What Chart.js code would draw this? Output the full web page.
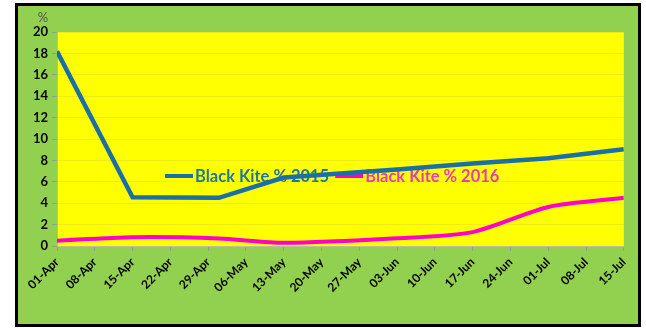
<!DOCTYPE html>
<html>
<head>
<meta charset="utf-8">
<script src="https://cdn.jsdelivr.net/npm/chart.js@4.4.0/dist/chart.umd.min.js"></script>
<style>
  html, body { margin: 0; padding: 0; background: #fff; }
  .frame {
    position: absolute; left: 15px; top: 3px;
    width: 620px; height: 318px;
    border: 3px solid #000; background: #92d050;
  }
  canvas { display: block; }
</style>
</head>
<body>
<div class="frame"><canvas id="chart" width="620" height="318"></canvas></div>
<script>
  // weekly axis labels (one every 7 days from 01-Apr)
  const weekLabels = ['01-Apr', '08-Apr', '15-Apr', '22-Apr', '29-Apr', '06-May', '13-May', '20-May',
    '27-May', '03-Jun', '10-Jun', '17-Jun', '24-Jun', '01-Jul', '08-Jul', '15-Jul'];
  // survey days, counted from 01-Apr
  const surveyDays = [0, 14, 30, 42, 63, 77, 91, 105];
  const kite2015 = [18.2, 4.55, 4.5, 6.4, 7.15, 7.7, 8.2, 9.05];
  const kite2016 = [0.5, 0.82, 0.7, 0.3, 0.72, 1.3, 3.65, 4.5];
  const yTicks = [0, 20, 2];

  const blue = '#1b6fa8';
  const pink = '#ff00cc';
  const font = 'Lato, "Open Sans", sans-serif';

  const points = (vals) => surveyDays.map((d, i) => ({ x: d, y: vals[i] }));

  // legend drawn inside the plot, under the lines
  const innerLegend = {
    id: 'innerLegend',
    beforeDatasetsDraw(chart) {
      const { ctx, chartArea } = chart;
      const textColors = ['#1f7896', '#e63cb4'];
      let x = chartArea.left + 108;
      const y = chartArea.top + 144;
      ctx.save();
      ctx.font = 'bold 16.5px ' + font;
      ctx.textBaseline = 'middle';
      chart.data.datasets.forEach((ds, i) => {
        ctx.strokeStyle = ds.borderColor;
        ctx.lineWidth = 4;
        ctx.beginPath();
        ctx.moveTo(x, y);
        ctx.lineTo(x + 28, y);
        ctx.stroke();
        ctx.fillStyle = textColors[i];
        ctx.fillText(ds.label, x + 30, y + 1);
        x += 30 + ctx.measureText(ds.label).width + 6;
      });
      ctx.restore();
    },
    afterDraw(chart) {
      const { ctx, chartArea } = chart;
      ctx.save();
      ctx.font = '13px ' + font;
      ctx.fillStyle = '#555';
      ctx.textAlign = 'center';
      ctx.textBaseline = 'middle';
      ctx.fillText('%', chartArea.left - 14, chartArea.top - 14);
      ctx.restore();
    },
  };

  const plotBg = {
    id: 'plotBg',
    beforeDraw(chart) {
      const { ctx, chartArea: a } = chart;
      ctx.save();
      ctx.fillStyle = '#ffff00';
      ctx.fillRect(a.left, a.top, a.right - a.left, a.bottom - a.top);
      ctx.restore();
    },
  };

  new Chart(document.getElementById('chart'), {
    type: 'line',
    data: {
      datasets: [
        {
          label: 'Black Kite % 2015',
          data: points(kite2015),
          borderColor: blue,
          borderWidth: 4.5,
          pointRadius: 0,
          tension: 0,
        },
        {
          label: 'Black Kite % 2016',
          data: points(kite2016),
          borderColor: pink,
          borderWidth: 4,
          pointRadius: 0,
          tension: 0.25,
        },
      ],
    },
    options: {
      responsive: false,
      animation: false,
      layout: { padding: { top: 26, right: 14, left: 0, bottom: 0 } },
      plugins: { legend: { display: false }, tooltip: { enabled: false } },
      scales: {
        x: {
          type: 'linear',
          min: 0,
          max: (weekLabels.length - 1) * 7,
          afterFit: (s) => { s.height = 78; },
          afterBuildTicks: (s) => {
            s.ticks = weekLabels.map((_, i) => ({ value: i * 7 }));
          },
          ticks: {
            autoSkip: false,
            minRotation: 45,
            maxRotation: 45,
            color: '#000',
            padding: 4,
            font: { family: font, size: 12, weight: 'bold' },
            callback: (v) => weekLabels[Math.round(v / 7)],
          },
          grid: { drawOnChartArea: false, color: '#9a9a9a', tickLength: 5 },
          border: { color: '#bdbd9a' },
        },
        y: {
          min: yTicks[0],
          max: yTicks[1],
          afterFit: (s) => { s.width = 39; },
          ticks: {
            stepSize: yTicks[2],
            color: '#000',
            padding: 4,
            font: { family: font, size: 13, weight: 'bold' },
          },
          grid: { color: 'rgba(170,170,110,0.2)', tickLength: 5, tickColor: '#9a9a9a' },
          border: { color: '#bdbd9a' },
        },
      },
    },
    plugins: [plotBg, innerLegend],
  });
</script>
</body>
</html>
